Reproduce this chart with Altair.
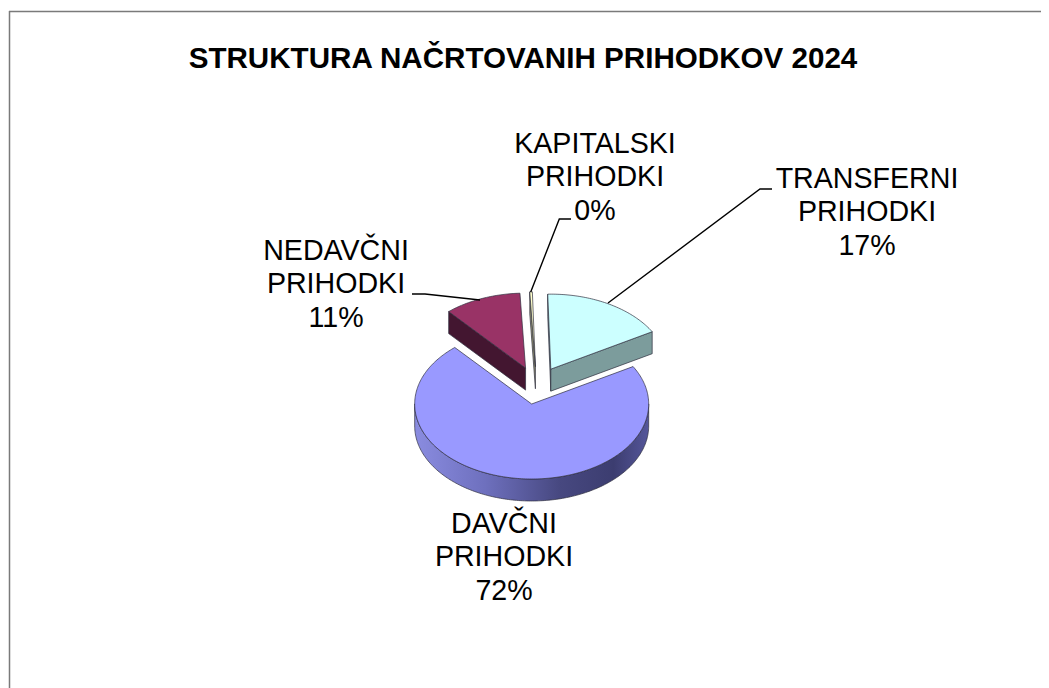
import math
import altair as alt

# ---- chart values ----
CATEGORIES = ["TRANSFERNI PRIHODKI", "DAVČNI PRIHODKI", "NEDAVČNI PRIHODKI", "KAPITALSKI PRIHODKI"]
SHARES = [17.1, 71.9, 10.65, 0.35]
PERCENT_LABELS = ["17%", "72%", "11%", "0%"]
TITLE = "STRUKTURA NAČRTOVANIH PRIHODKOV 2024"

# ---- styling and layout ----
TOP_COLORS = ["#CCFFFF", "#9999FF", "#993366", "#FFFFCC"]
WALL_COLORS = ["#7C9C9C", "#5D5D9B", "#431630", "#8F8F70"]
W, H = 1033, 680
OX, OY = 8, 8                 # page margin
CX, CY = 536.5 - OX, 385.5 - OY
RX, RY, DEPTH = 117.0, 75.0, 22.0
EXPLODE = 0.25
START_DEG = -1.5
EDGE = "#2f2f3f"


def pt(c, deg, dy=0.0):
    a = math.radians(deg)
    return [c[0] + RX * math.sin(a), c[1] - RY * math.cos(a) + dy]


def arc(c, a0, a1, dy=0.0, reverse=False):
    n = max(2, int(abs(a1 - a0)) + 2)
    pts = [pt(c, a0 + (a1 - a0) * i / (n - 1), dy) for i in range(n)]
    return pts[::-1] if reverse else pts


def feat(kind, coords, **props):
    return {"type": "Feature", "properties": props,
            "geometry": {"type": kind, "coordinates": coords}}


tops, walls, rims = [], [], []
ang = START_DEG
for name, share in zip(CATEGORIES, SHARES):
    a0, a1 = ang, ang + share * 3.6
    ang = a1
    mid = math.radians((a0 + a1) / 2)
    c = (CX + EXPLODE * RX * math.sin(mid), CY - EXPLODE * RY * math.cos(mid))
    ring = [list(c)] + arc(c, a0, a1) + [list(c)]
    tops.append(feat("Polygon", [ring], name=name))
    c2 = [c[0], c[1] + DEPTH]
    if math.sin(math.radians(a0)) < 0:
        p = pt(c, a0)
        walls.append(feat("Polygon", [[list(c), p, [p[0], p[1] + DEPTH], c2, list(c)]], name=name))
    if math.sin(math.radians(a1)) > 0:
        p = pt(c, a1)
        walls.append(feat("Polygon", [[list(c), p, [p[0], p[1] + DEPTH], c2, list(c)]], name=name))
    lo, hi = max(a0, 90), min(a1, 270)
    if lo < hi:
        band = arc(c, lo, hi) + arc(c, lo, hi, DEPTH, reverse=True)
        rims.append(feat("Polygon", [band + [band[0]]], name=name))

PROJ = dict(type="identity", scale=1, translate=[0, 0])

wall_layer = (alt.Chart(alt.Data(values=walls))
              .mark_geoshape(stroke=EDGE, strokeWidth=0.7)
              .encode(fill=alt.Fill("properties.name:N", legend=None,
                                    scale=alt.Scale(domain=CATEGORIES, range=WALL_COLORS)))
              .project(**PROJ))
rim_gradient = alt.LinearGradient(
    gradient="linear", x1=0, x2=1, y1=0, y2=0,
    stops=[alt.GradientStop(offset=0, color="#8A8CE0"),
           alt.GradientStop(offset=0.3, color="#6E70BE"),
           alt.GradientStop(offset=0.62, color="#474880"),
           alt.GradientStop(offset=0.85, color="#3C3D70"),
           alt.GradientStop(offset=1, color="#55569A")])
rim_layer = (alt.Chart(alt.Data(values=rims))
             .mark_geoshape(fill=rim_gradient, stroke=EDGE, strokeWidth=0.7)
             .project(**PROJ))
top_layer = (alt.Chart(alt.Data(values=tops))
             .mark_geoshape(stroke=EDGE, strokeWidth=0.7)
             .encode(fill=alt.Fill("properties.name:N", legend=None,
                                   scale=alt.Scale(domain=CATEGORIES, range=TOP_COLORS)))
             .project(**PROJ))

# leader lines (layout, in picture pixels)
LEADERS = [
    [(608, 303), (760, 189), (772, 189)],
    [(480, 300), (425, 294), (412, 294)],
    [(530.7, 292), (559.3, 219), (571, 219)],
]
leader_feats = [feat("LineString", [[x - OX, y - OY] for x, y in l]) for l in LEADERS]
leader_layer = (alt.Chart(alt.Data(values=leader_feats))
                .mark_geoshape(filled=False, stroke="#000000", strokeWidth=1.4)
                .project(**PROJ))

# label anchors (layout, in picture pixels): centre x, first-line y, line step
ANCHORS = {0: (867, 179, 33.3), 1: (504, 524, 33.3), 2: (336, 251, 33.3), 3: (595, 144, 33.3)}
rows = []
for i, name in enumerate(CATEGORIES):
    ax, ay, step = ANCHORS[i]
    for j, line in enumerate(name.split(" ") + [PERCENT_LABELS[i]]):
        rows.append({"t": line, "x": ax - OX, "y": ay + j * step - OY})

sx = alt.Scale(domain=[0, W], range=[0, W])
sy = alt.Scale(domain=[0, H], range=[0, H])
label_layer = (alt.Chart(alt.Data(values=rows))
               .mark_text(font="Liberation Sans", fontSize=28.6, color="#000000",
                          align="center", baseline="middle")
               .encode(x=alt.X("x:Q", scale=sx, axis=None),
                       y=alt.Y("y:Q", scale=sy, axis=None),
                       text="t:N"))
title_layer = (alt.Chart(alt.Data(values=[{"t": TITLE, "x": 523 - OX, "y": 59 - OY}]))
               .mark_text(font="Liberation Sans", fontSize=29.6, fontWeight="bold",
                          color="#000000", align="center", baseline="middle")
               .encode(x=alt.X("x:Q", scale=sx, axis=None),
                       y=alt.Y("y:Q", scale=sy, axis=None),
                       text="t:N"))

border_color = "#7A7A7A"
border_top = (alt.Chart(alt.Data(values=[{"a": 0}])).mark_rule(color=border_color, strokeWidth=1.5)
              .encode(x=alt.value(1), x2=alt.value(W), y=alt.value(3.5)))
border_left = (alt.Chart(alt.Data(values=[{"a": 0}])).mark_rule(color=border_color, strokeWidth=1.5)
               .encode(x=alt.value(1.5), y=alt.value(3), y2=alt.value(H)))

chart = (alt.layer(wall_layer, rim_layer, top_layer, leader_layer,
                   border_top, border_left, label_layer, title_layer)
         .resolve_scale(fill="independent")
         .properties(width=W, height=H, padding=0, background="white",
                     autosize=alt.AutoSizeParams(type="none"))
         .configure_view(stroke=None))

chart.save("out.html", embed_options={"renderer": "svg", "actions": False})
